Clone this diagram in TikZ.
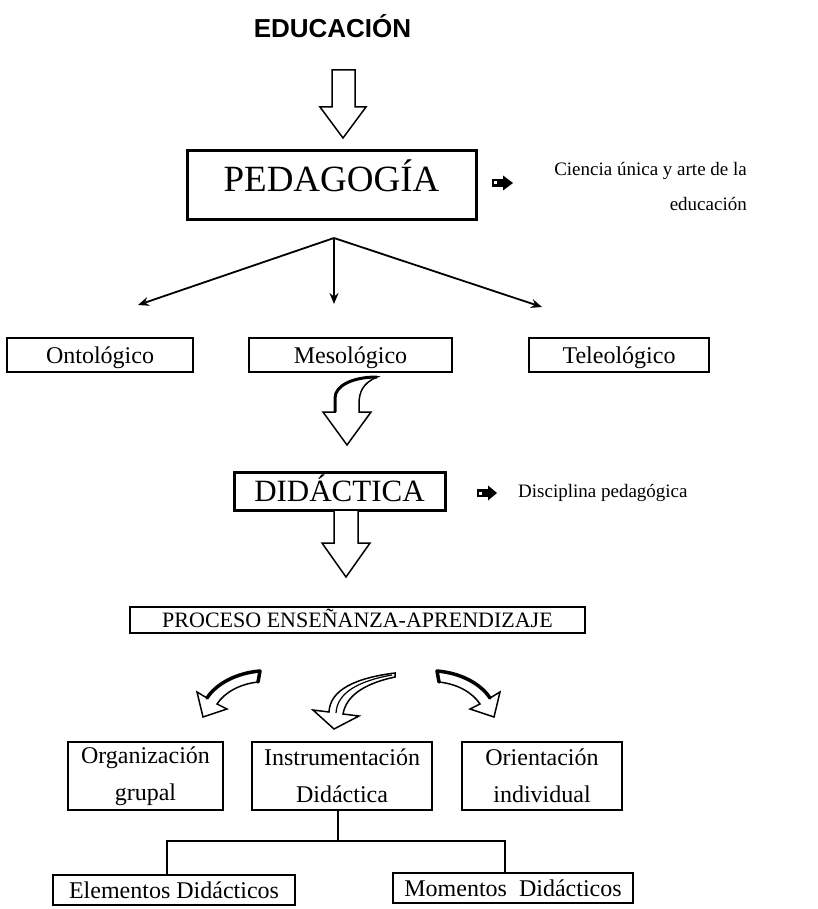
\documentclass[tikz,border=0pt]{standalone}
\usepackage{fontspec}
\setmainfont{Liberation Serif}
\newfontfamily\headfont{Liberation Sans}
\usetikzlibrary{arrows.meta}
\begin{document}
\begin{tikzpicture}[x=1pt,y=-1pt,
  box/.style={draw, line width=1.5pt, inner sep=0pt, align=center},
  thickbox/.style={draw, line width=3pt, inner sep=0pt},
  lbl/.style={font=\fontsize{24}{37}\selectfont},
  hollow/.style={draw, line width=1.5pt, fill=white, line join=miter},
  heavy/.style={line width=3.5pt, line cap=round},
  thinarrow/.style={line width=1.8pt, -{Stealth[length=11pt,width=9pt]}},
  conn/.style={line width=1.8pt},
  note/.style={font=\fontsize{19}{35}\selectfont, inner sep=0pt}]
\useasboundingbox (0,0) rectangle (817,909);

% title
\node[font=\headfont\bfseries\fontsize{26}{30}\selectfont] (edu) at (332.5,26) {EDUCACIÓN};

% arrow EDUCACION -> PEDAGOGIA
\draw[hollow] (332,70) -- (355,70) -- (355,107) -- (366,107) -- (343,138) -- (320,107) -- (332,107) -- cycle;

% PEDAGOGIA
\node[thickbox, minimum width=289pt, minimum height=69pt,
      font=\fontsize{37}{40}\selectfont, text height=26pt, text depth=13pt] (ped) at (331.5,185.5) {PEDAGOGÍA};
\fill (492,179) rectangle (503,187);
\fill (503,175.5) -- (513,183) -- (503,190.5) -- cycle;
\fill[white] (494,181.5) rectangle (497,184.5);
\node[note, align=right, anchor=east] (cien) at (747,186) {Ciencia única y arte de la\\educación};

% branches
\coordinate (sp) at (334,238);
\coordinate (tl) at (138,305);
\coordinate (tm) at (334,304);
\coordinate (tr) at (542,307);
\draw[thinarrow] (sp) -- (tl);
\draw[thinarrow] (sp) -- (tm);
\draw[thinarrow] (sp) -- (tr);

\node[box, lbl, minimum width=186pt, minimum height=34pt, text height=18pt, text depth=2pt] (onto) at (100,355) {Ontológico};
\node[box, lbl, minimum width=203pt, minimum height=34pt, text height=18pt, text depth=2pt] (meso) at (350.5,355) {Mesológico};
\node[box, lbl, minimum width=180pt, minimum height=34pt, text height=18pt, text depth=2pt] (tele) at (619,355) {Teleológico};

% curved hollow arrow below Mesologico
\draw[hollow] (335,412) -- (335,398) .. controls (335,386) and (352,377) .. (377,377)
  .. controls (363,383) and (359,392) .. (359,404) -- (359,412) -- (371,412) -- (347,445) -- (323,412) -- cycle;
\draw[line width=3pt] (335,412) -- (335,398) .. controls (335,386) and (352,377) .. (377,377);

% DIDACTICA
\node[thickbox, minimum width=211pt, minimum height=38pt,
      font=\fontsize{31}{34}\selectfont, text height=21pt, text depth=0.5pt] (did) at (339.5,491) {DIDÁCTICA};
\fill (477,489) rectangle (488,497);
\fill (488,485.5) -- (497,493) -- (488,500.5) -- cycle;
\fill[white] (479,491.5) rectangle (482,494.5);
\node[note, anchor=west] (disc) at (518,493) {Disciplina pedagógica};

% arrow DIDACTICA -> PROCESO
\draw[hollow] (334,510) -- (358,510) -- (358,543) -- (370,543) -- (346,577) -- (322,543) -- (334,543) -- cycle;

% PROCESO
\node[box, font=\fontsize{22}{24}\selectfont, minimum width=455pt, minimum height=26pt,
      text height=14.5pt, text depth=0pt] (proc) at (357.5,620) {PROCESO ENSEÑANZA-APRENDIZAJE};

% three curved arrows
\draw[hollow] (260,671) .. controls (236,673) and (216,684) .. (207,698) -- (197,692) -- (203,717)
  -- (227,709) -- (217,704) .. controls (225,692) and (240,684) .. (258,682) -- cycle;
\draw[heavy] (260,671) .. controls (236,673) and (216,684) .. (207,698);
\draw[heavy] (260,671) -- (258,682);

\draw[hollow] (395,673) .. controls (355,678) and (330,690) .. (329,712) -- (313,710) -- (334,729)
  -- (359,716) -- (343,714) .. controls (346,697) and (362,684) .. (395,677) -- cycle;
\draw[line width=1.2pt] (392,675) .. controls (358,681) and (337,693) .. (336,713);

\begin{scope}[shift={(697,0)}, xscale=-1]
\draw[hollow] (260,671) .. controls (236,673) and (216,684) .. (207,698) -- (197,692) -- (203,717)
  -- (227,709) -- (217,704) .. controls (225,692) and (240,684) .. (258,682) -- cycle;
\draw[heavy] (260,671) .. controls (236,673) and (216,684) .. (207,698);
\draw[heavy] (260,671) -- (258,682);
\end{scope}

% second row
\node[box, lbl, minimum width=155pt, minimum height=68pt] (org) at (145.5,776) {Organización\\grupal};
\node[box, lbl, minimum width=180pt, minimum height=68pt] (ins) at (342,776) {Instrumentación\\Didáctica};
\node[box, lbl, minimum width=160pt, minimum height=68pt] (ori) at (542,776) {Orientación\\individual};

% bottom row
\node[box, lbl, minimum width=242pt, minimum height=30pt, text height=18pt, text depth=2pt] (ele) at (174,890) {Elementos Didácticos};
\node[box, lbl, minimum width=240pt, minimum height=30pt, text height=18pt, text depth=2pt] (mom) at (513,888) {Momentos\ \ Didácticos};

\draw[conn] ([xshift=-4pt]ins.south) -- ++(0,30) coordinate (jn);
\draw[conn] ([xshift=-7pt]ele.north) |- (jn) -| ([xshift=-8pt]mom.north);
\end{tikzpicture}
\end{document}
